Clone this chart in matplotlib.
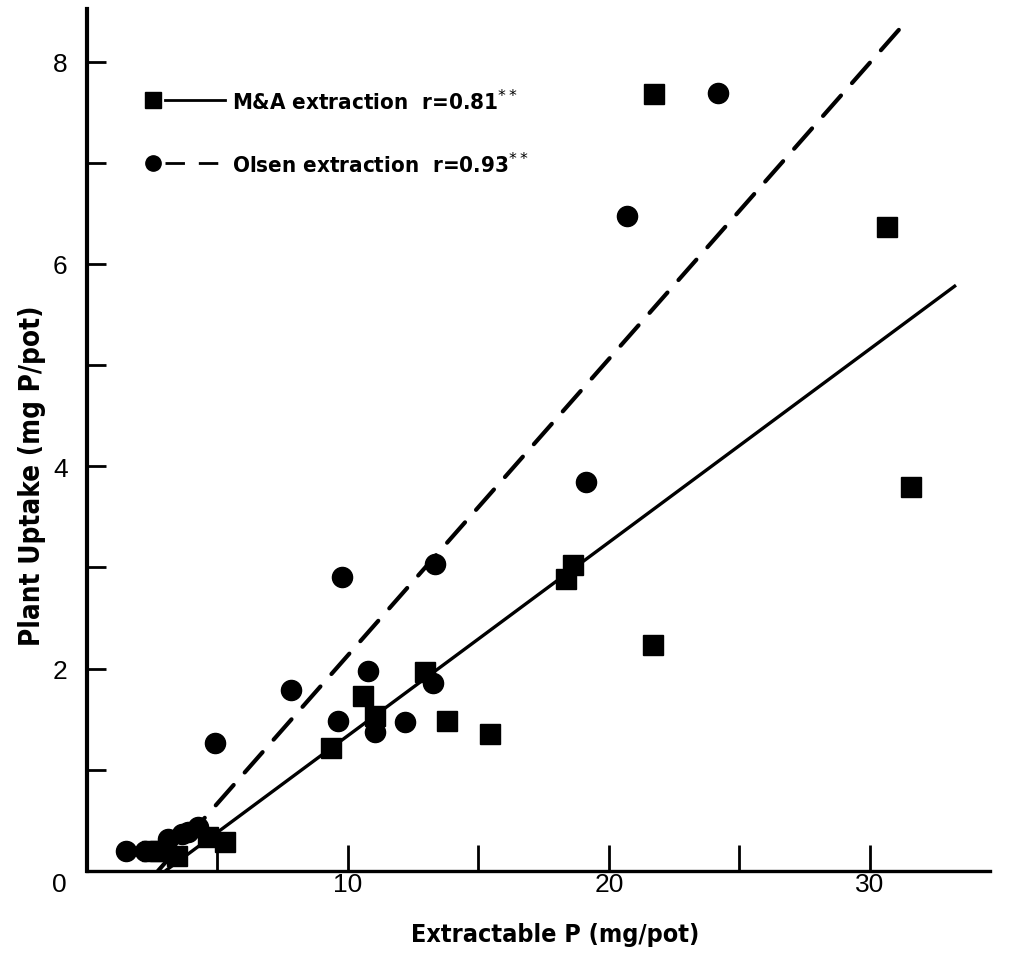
"""
    Plant P uptake against extractable P for two extraction methods
"""
import matplotlib
matplotlib.use('Agg')
import matplotlib.pyplot as plt

# M&A extraction (squares)
MA_X = [3.45, 4.64, 5.29, 2.5, 2.8, 9.35, 10.57, 11.03, 12.95, 13.79, 15.44,
        18.35, 18.62, 21.69, 21.72, 30.65, 31.57]
MA_Y = [0.15, 0.34, 0.29, 0.20, 0.20, 1.22, 1.73, 1.53, 1.97, 1.48, 1.35,
        2.89, 3.02, 2.23, 7.68, 6.37, 3.80]

# Olsen extraction (circles)
OLSEN_X = [1.49, 2.22, 3.10, 3.64, 3.87, 4.25, 4.90, 7.82, 9.62, 9.77, 10.77,
           11.03, 12.18, 13.26, 13.33, 19.12, 20.69, 24.20]
OLSEN_Y = [0.20, 0.20, 0.32, 0.37, 0.39, 0.43, 1.26, 1.79, 1.48, 2.91, 1.98,
           1.37, 1.47, 1.86, 3.03, 3.84, 6.47, 7.69]

# fitted lines (end points)
MA_FIT_X = [3.0, 33.3]
MA_FIT_Y = [0.0, 5.79]
OLSEN_FIT_X = [2.72, 31.2]
OLSEN_FIT_Y = [0.0, 8.34]

X_TICKS = [5, 10, 15, 20, 25, 30]
X_TICK_LABELS = ['', '10', '', '20', '', '30']
Y_TICKS = [1, 2, 3, 4, 5, 6, 7, 8]
Y_TICK_LABELS = ['', '2', '', '4', '', '6', '', '8']

MA_LABEL = 'M&A extraction  r=0.81$^{**}$'
OLSEN_LABEL = 'Olsen extraction  r=0.93$^{**}$'

NARROW = dict(family='DejaVu Sans', stretch='condensed', fontweight='bold')


def main():
    fig = plt.figure(figsize=(10.29, 9.62), dpi=100)
    axes = fig.add_axes([0.0845, 0.0936, 0.8775, 0.896])

    axes.plot(MA_FIT_X, MA_FIT_Y, color='black', lw=2.4, solid_capstyle='butt')
    axes.plot(OLSEN_FIT_X, OLSEN_FIT_Y, color='black', lw=3.0,
              dashes=(6.5, 4.0), dash_capstyle='round')
    axes.plot(MA_X, MA_Y, 's', color='black', ms=15, ls='none')
    axes.plot(OLSEN_X, OLSEN_Y, 'o', color='black', ms=14.5, ls='none')

    axes.set_xlim(0, 34.6)
    axes.set_ylim(0, 8.52)

    for side in ('top', 'right'):
        axes.spines[side].set_visible(False)
    axes.spines['left'].set_linewidth(3.0)
    axes.spines['bottom'].set_linewidth(2.4)

    axes.set_xticks(X_TICKS)
    axes.set_xticklabels(X_TICK_LABELS, fontsize=19, family='Liberation Sans')
    axes.set_yticks(Y_TICKS)
    axes.set_yticklabels(Y_TICK_LABELS, fontsize=19, family='Liberation Sans')
    axes.tick_params(axis='x', direction='in', length=19, width=2.0, pad=1)
    axes.tick_params(axis='y', direction='in', length=14, width=2.0, pad=14)
    axes.text(-0.031, -0.015, '0', transform=axes.transAxes, ha='center',
              va='center', fontsize=19, family='Liberation Sans')

    axes.set_xlabel('Extractable P (mg/pot)', fontsize=18, **NARROW)
    axes.xaxis.set_label_coords(0.518, -0.073)
    axes.xaxis.label.set_va('center')
    axes.set_ylabel('Plant Uptake (mg P/pot)', fontsize=20, **NARROW)
    axes.yaxis.set_label_coords(-0.061, 0.46)
    axes.yaxis.label.set_va('center')

    # hand-drawn legend, marker left of the line sample
    trans = axes.transAxes
    axes.plot([0.073], [0.894], 's', color='black', ms=11, transform=trans,
              clip_on=False)
    axes.plot([0.086, 0.153], [0.894, 0.894], color='black', lw=2.0,
              transform=trans)
    axes.text(0.161, 0.894, MA_LABEL, transform=trans, va='center',
              fontsize=16, **NARROW)
    axes.plot([0.073], [0.821], 'o', color='black', ms=11, transform=trans)
    axes.plot([0.086, 0.153], [0.821, 0.821], color='black', lw=2.0,
              dashes=(7, 5), transform=trans)
    axes.text(0.161, 0.821, OLSEN_LABEL, transform=trans, va='center',
              fontsize=16, **NARROW)

    fig.savefig('out.png', dpi=100)


if __name__ == '__main__':
    main()
